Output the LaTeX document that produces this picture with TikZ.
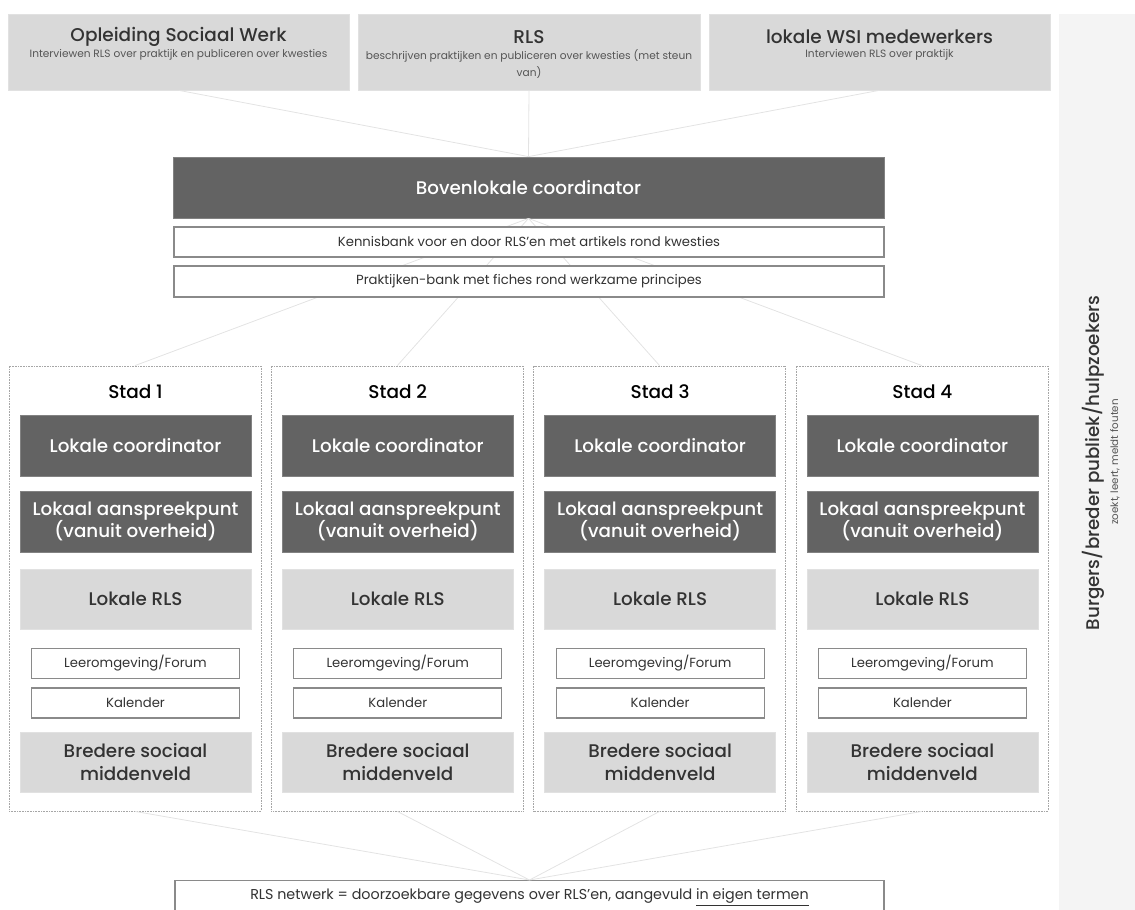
\documentclass[tikz,border=0pt]{standalone}
\usepackage{fontspec}
\setmainfont{Poppins}
\newfontfamily\med{Poppins}[UprightFont={* Medium}]
\definecolor{darkg}{HTML}{636363}
\definecolor{lightg}{HTML}{D9D9D9}
\definecolor{sideg}{HTML}{F4F4F4}
\definecolor{lineg}{HTML}{E3E3E3}
\definecolor{bordg}{HTML}{8A8A8A}
\definecolor{txtg}{HTML}{333333}
\definecolor{subg}{HTML}{555555}
\tikzset{
  darkbox/.style={fill=darkg, draw=darkg!80!white, line width=0.8pt, inner sep=0pt},
  lightbox/.style={fill=lightg, draw=lightg!80!white, line width=0.6pt, inner sep=0pt},
  whitebox/.style={fill=white, draw=bordg, line width=1.1pt, inner sep=0pt},
  stadbox/.style={draw=black!35, dash pattern=on 0.8pt off 0.8pt, line width=0.8pt, inner sep=0pt},
  conn/.style={draw=lineg, line width=0.8pt},
  ttl/.style={text=txtg, font=\med\fontsize{18.5}{20}\selectfont, inner sep=0pt},
  subt/.style={text=subg, font=\fontsize{10.6}{17}\selectfont, inner sep=0pt, align=center},
  wtxt/.style={text=white, font=\med\fontsize{18.3}{22.5}\selectfont, align=center, inner sep=0pt},
  gtxt/.style={text=txtg, font=\med\fontsize{18.3}{22.5}\selectfont, align=center, inner sep=0pt},
  smtxt/.style={text=txtg, font=\fontsize{13.2}{15}\selectfont, inner sep=0pt},
}
\begin{document}
\begin{tikzpicture}[x=1pt,y=-1pt]
\useasboundingbox (0,0) rectangle (1135,910);
\clip (0,0) rectangle (1135,910);
% sidebar
\fill[sideg] (1059,14) rectangle (1135,915);
\node[rotate=90, text=txtg, font=\med\fontsize{18.3}{20}\selectfont, inner sep=0pt] (side) at (1093,463) {Burgers/breder publiek/hulpzoekers};
\node[rotate=90, text=subg, font=\fontsize{10.3}{12}\selectfont, inner sep=0pt] (sidesub) at (1115,462) {zoekt, leert, meldt fouten};

% top boxes
\node[lightbox, minimum width=341pt, minimum height=76pt] (op) at (178.5,52) {};
\node[lightbox, minimum width=342pt, minimum height=76pt] (rls) at (529,52) {};
\node[lightbox, minimum width=341pt, minimum height=76pt] (wsi) at (879.5,52) {};
\node[ttl] (opt) at (178.5,37) {Opleiding Sociaal Werk};
\node[subt] (ops) at (178.5,55) {Interviewen RLS over praktijk en publiceren over kwesties};
\node[ttl] (rlst) at (529,37) {RLS};
\node[subt, anchor=north] (rlss) at (529,49) {beschrijven praktijken en publiceren over kwesties (met steun\\van)};
\node[ttl] (wsit) at (879.5,37) {lokale WSI medewerkers};
\node[subt] (wsis) at (879.5,55) {Interviewen RLS over praktijk};

% central
\node[darkbox, minimum width=711pt, minimum height=61pt] (bov) at (528.5,187.5) {};
\draw[conn] (op.south) -- (bov.north);
\draw[conn] (rls.south) -- (bov.north);
\draw[conn] (wsi.south) -- (bov.north);

% stad boxes
\foreach \i in {1,2,3,4}{
  \pgfmathsetmacro{\L}{9+262.3*(\i-1)}
  \pgfmathsetmacro{\cx}{\L+126}
  \node[stadbox, minimum width=252pt, minimum height=445pt] (stad\i) at (\cx,588.5) {};
}
\foreach \i in {1,2,3,4}{
  \draw[conn] (bov.south) -- (stad\i.north);
}

\node[wtxt] (bovt) at (528.5,187.5) {Bovenlokale coordinator};
\node[whitebox, minimum width=710pt, minimum height=30pt] (kb) at (529,242) {};
\node[smtxt] (kbt) at (529,242) {Kennisbank voor en door RLS’en met artikels rond kwesties};
\node[whitebox, minimum width=710pt, minimum height=31pt] (pb) at (529,281.5) {};
\node[smtxt] (pbt) at (529,281.5) {Praktijken-bank met fiches rond werkzame principes};

\foreach \i in {1,2,3,4}{
  \pgfmathsetmacro{\L}{9+262.3*(\i-1)}
  \pgfmathsetmacro{\cx}{\L+126.5}
  \node[text=black, font=\med\fontsize{18.5}{20}\selectfont, inner sep=0pt] (st\i) at (\cx,392) {Stad \i};
  \node[darkbox, minimum width=231pt, minimum height=61pt] (lc\i) at (\cx,445.5) {};
  \node[wtxt] (lct\i) at (\cx,445.5) {Lokale coordinator};
  \node[darkbox, minimum width=231pt, minimum height=61pt] (la\i) at (\cx,521.5) {};
  \node[wtxt] (lat\i) at (\cx,521.5) {Lokaal aanspreekpunt\\(vanuit overheid)};
  \node[lightbox, minimum width=231pt, minimum height=60pt] (lr\i) at (\cx,599) {};
  \node[gtxt] (lrt\i) at (\cx,599) {Lokale RLS};
  \node[whitebox, minimum width=208pt, minimum height=30pt] (lf\i) at (\cx,663.5) {};
  \node[smtxt] (lft\i) at (\cx,663.5) {Leeromgeving/Forum};
  \node[whitebox, minimum width=208pt, minimum height=30pt] (ka\i) at (\cx,703) {};
  \node[smtxt] (kat\i) at (\cx,703) {Kalender};
  \node[lightbox, minimum width=231pt, minimum height=60pt] (bm\i) at (\cx,762) {};
  \node[gtxt] (bmt\i) at (\cx,762) {Bredere sociaal\\middenveld};
}

% bottom
\node[whitebox, minimum width=709pt, minimum height=40pt, anchor=north] (net) at (529.5,880) {};
\foreach \i in {1,2,3,4}{
  \draw[conn] (stad\i.south) -- (net.north);
}
\node[text=txtg, font=\fontsize{14.3}{16}\selectfont, inner sep=0pt] (nett) at (529.5,897) {RLS netwerk = doorzoekbare gegevens over RLS’en, aangevuld \underline{in eigen termen}};
\end{tikzpicture}
\end{document}
